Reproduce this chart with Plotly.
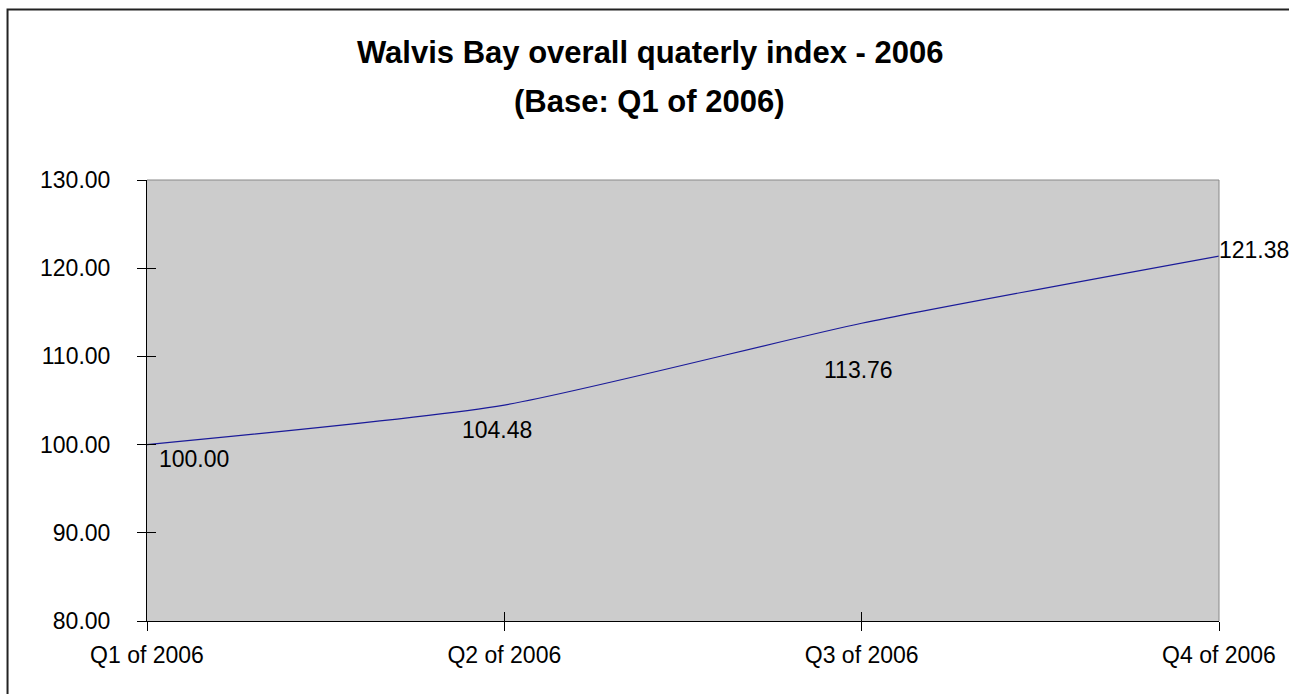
import plotly.graph_objects as go

# Quarterly index values (base: Q1 of 2006 = 100)
quarters = ["Q1 of 2006", "Q2 of 2006", "Q3 of 2006", "Q4 of 2006"]
index_values = [100.00, 104.48, 113.76, 121.38]
y_ticks = [80, 90, 100, 110, 120, 130]

FONT = "Liberation Sans, Arial, sans-serif"
LABEL_SIZE = 23

fig = go.Figure()
fig.add_trace(go.Scatter(
    x=quarters, y=index_values, mode="lines",
    line=dict(color="#1a1a99", width=1.2, shape="spline", smoothing=0.6),
    hoverinfo="x+y", showlegend=False,
))

# Value labels placed near each point
label_offsets = [
    dict(xanchor="left", xshift=10, yshift=-14),
    dict(xanchor="center", xshift=-7, yshift=-25),
    dict(xanchor="center", xshift=-3, yshift=-47),
    dict(xanchor="left", xshift=-2, yshift=6),
]
for q, v, off in zip(quarters, index_values, label_offsets):
    fig.add_annotation(x=q, y=v, text=f"{v:.2f}", showarrow=False,
                       yanchor="middle",
                       font=dict(family=FONT, size=LABEL_SIZE, color="#000"),
                       **off)

# Two-line bold title
fig.add_annotation(xref="paper", yref="paper", x=0.469, y=1.29, yanchor="middle",
                   text="<b>Walvis Bay overall quaterly index - 2006</b>",
                   showarrow=False, font=dict(family=FONT, size=31, color="#000"))
fig.add_annotation(xref="paper", yref="paper", x=0.469, y=1.179, yanchor="middle",
                   text="<b>(Base: Q1 of 2006)</b>",
                   showarrow=False, font=dict(family=FONT, size=31, color="#000"))

# Outer chart border (top and left edges)
fig.add_shape(type="path", xref="paper", yref="paper",
              path="M -0.1301,-0.3 L -0.1301,1.3866 L 1.2,1.3866",
              line=dict(color="#222", width=2))
# Plot area frame (top and right edges)
fig.add_shape(type="path", xref="paper", yref="paper",
              path="M 0,1 L 1,1 L 1,0", line=dict(color="#888", width=1))

fig.update_layout(
    width=1289, height=694,
    margin=dict(l=147, r=70, t=180, b=73),
    paper_bgcolor="white", plot_bgcolor="#cccccc",
    font=dict(family=FONT, size=LABEL_SIZE, color="#000"),
    xaxis=dict(
        type="category", categoryorder="array", categoryarray=quarters,
        range=[0, 3], showgrid=False, zeroline=False,
        showline=True, linecolor="#000", linewidth=1,
        ticks="outside", ticklen=9, tickcolor="#000", tickwidth=1,
        ticklabelstandoff=4, tickfont=dict(family=FONT, size=LABEL_SIZE),
    ),
    xaxis2=dict(
        type="category", categoryorder="array", categoryarray=quarters,
        range=[0, 3], overlaying="x", showgrid=False, zeroline=False,
        ticks="inside", ticklen=9, tickcolor="#000", tickwidth=1,
        showticklabels=False, side="bottom", matches="x",
    ),
    yaxis=dict(
        range=[80, 130], tickvals=y_ticks, tickformat=".2f",
        showgrid=False, zeroline=False,
        showline=True, linecolor="#000", linewidth=1,
        ticks="outside", ticklen=9, tickcolor="#000", tickwidth=1,
        ticklabelstandoff=22, tickfont=dict(family=FONT, size=LABEL_SIZE),
    ),
    yaxis2=dict(
        range=[80, 130], tickvals=y_ticks, overlaying="y",
        showgrid=False, zeroline=False,
        ticks="inside", ticklen=9, tickcolor="#000", tickwidth=1,
        showticklabels=False, side="left", matches="y",
    ),
)

# Invisible trace to bind the secondary axes that carry the inner tick halves
fig.add_trace(go.Scatter(x=quarters, y=index_values, xaxis="x2", yaxis="y2",
                         mode="lines", line=dict(width=0), opacity=0,
                         hoverinfo="skip", showlegend=False))

fig.write_html("out.html")
